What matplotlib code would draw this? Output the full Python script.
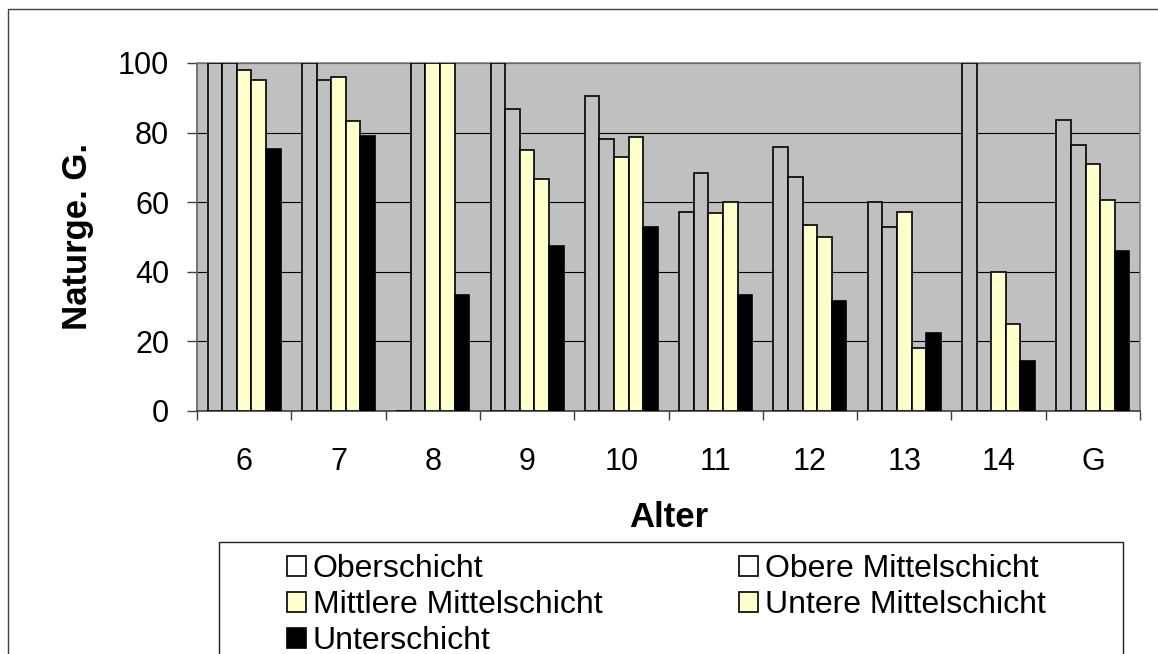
import numpy as np
import matplotlib
matplotlib.use("Agg")
import matplotlib.pyplot as plt
from matplotlib.patches import Patch, Rectangle

plt.rcParams['font.family'] = ['Liberation Sans', 'DejaVu Sans']

categories = ['6', '7', '8', '9', '10', '11', '12', '13', '14', 'G']
series_names = ['Oberschicht', 'Obere Mittelschicht', 'Mittlere Mittelschicht',
                'Untere Mittelschicht', 'Unterschicht']
oberschicht = [100, 100, 0, 100, 90.4, 57.1, 75.9, 60.0, 100, 83.6]
obere_mittel = [100, 95.0, 100, 86.9, 78.1, 68.3, 67.3, 52.9, 0, 76.5]
mittlere_mittel = [98.1, 95.9, 100, 75.0, 72.9, 56.9, 53.5, 57.2, 39.9, 70.9]
untere_mittel = [95.2, 83.2, 100, 66.7, 78.8, 60.0, 49.9, 18.1, 25.0, 60.6]
unterschicht = [75.2, 79.1, 33.3, 47.5, 52.9, 33.3, 31.5, 22.5, 14.5, 46.0]
yticks = [0, 20, 40, 60, 80, 100]

series = [oberschicht, obere_mittel, mittlere_mittel, untere_mittel, unterschicht]
bar_colors = ['#C0C0C0', '#C0C0C0', '#FFFFCC', '#FFFFCC', '#000000']
legend_colors = ['#FFFFFF', '#FFFFFF', '#FFFFCC', '#FFFFCC', '#000000']

W, H = 1158, 654
fig = plt.figure(figsize=(W / 100, H / 100), dpi=100)
fig.patch.set_facecolor('white')

# outer chart border
fig.patches.append(Rectangle((8 / W, -0.1), 1.2, 1 - 9 / H + 0.1,
                             transform=fig.transFigure, fill=False,
                             edgecolor='#404040', lw=1.0, zorder=0))

ax = fig.add_axes([197 / W, (H - 411) / H, (1140 - 197) / W, (411 - 63) / H])
ax.set_facecolor('#C0C0C0')

x = np.arange(len(categories))
bw = 0.155
for i, (vals, c) in enumerate(zip(series, bar_colors)):
    ax.bar(x + (i - 2) * bw, vals, width=bw, color=c, edgecolor='black',
           linewidth=1.2, zorder=3)

ax.set_xlim(-0.5, len(categories) - 0.5)
ax.set_ylim(0, 100)
ax.set_yticks(yticks)
ax.set_yticklabels([str(v) for v in yticks], fontsize=22)
ax.yaxis.grid(True, color='black', lw=0.8)
ax.set_axisbelow(True)

ax.set_xticks(np.arange(len(categories) + 1) - 0.5)
ax.set_xticklabels([''] * (len(categories) + 1))
ax.set_xticks(x, minor=True)
ax.set_xticklabels(categories, minor=True, fontsize=22)
ax.tick_params(axis='x', which='major', direction='out', length=6.5,
               width=1.0, color='#404040')
ax.tick_params(axis='x', which='minor', length=0, pad=26)
ax.tick_params(axis='y', direction='out', length=7, width=1.0,
               color='#404040', pad=13)

for side in ['top', 'right']:
    ax.spines[side].set_color('#808080')
    ax.spines[side].set_linewidth(1.2)
ax.spines['left'].set_color('#606060')
ax.spines['left'].set_linewidth(1.2)
ax.spines['bottom'].set_color('#404040')
ax.spines['bottom'].set_linewidth(1.2)

ax.set_xlabel('Alter', fontsize=25, fontweight='bold')
ax.xaxis.set_label_coords(0.5, (411 - 501) / 348)
ax.xaxis.label.set_va('top')
ax.set_ylabel('Naturge. G.', fontsize=25, fontweight='bold')
ax.yaxis.label.set_va('center')
ax.yaxis.set_label_coords((78 - 197) / 943, 0.5)

# legend frame
fig.patches.append(Rectangle((219 / W, -0.1), (1123 - 219) / W, (654 - 542) / H + 0.1,
                             transform=fig.transFigure, facecolor='white',
                             edgecolor='#202020', lw=1.0, zorder=1))

handles = [Patch(facecolor=c, edgecolor='black', linewidth=1.2) for c in legend_colors]
col1 = [0, 2, 4]
col2 = [1, 3]
common = dict(frameon=False, fontsize=23, handlelength=0.6, handleheight=0.6,
              handletextpad=0.2, labelspacing=0.19, borderpad=0, borderaxespad=0,
              loc='upper left')
leg1 = fig.legend([handles[i] for i in col1], [series_names[i] for i in col1],
                  bbox_to_anchor=(287 / W, 1 - 554 / H), **common)
leg2 = fig.legend([handles[i] for i in col2], [series_names[i] for i in col2],
                  bbox_to_anchor=(739 / W, 1 - 554 / H), **common)
leg1.set_zorder(5)
leg2.set_zorder(5)

fig.savefig('out.png', dpi=100)
